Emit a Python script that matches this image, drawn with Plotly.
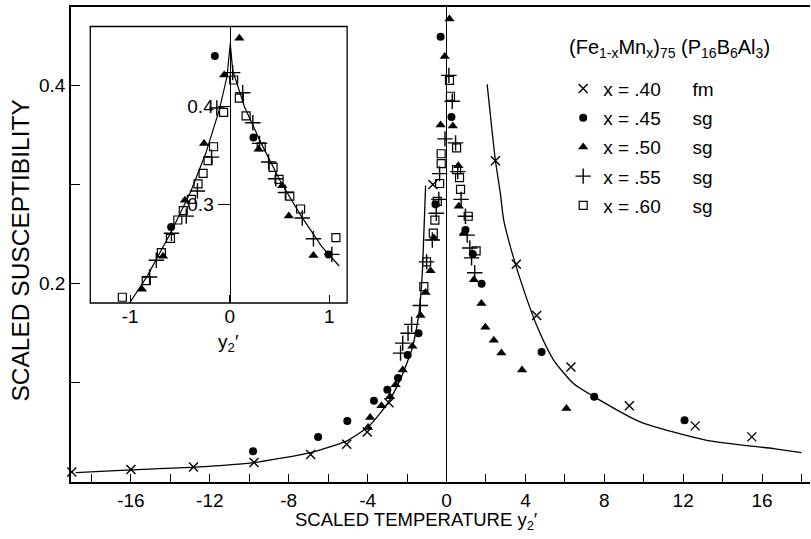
import plotly.graph_objects as go

# ---------------- main panel data ----------------
fm_x = [-19.0, -16.0, -12.83, -9.76, -6.89, -5.06, -4.02, -2.92, -0.69, 2.48, 3.54, 4.57, 6.31, 9.27, 12.61, 15.48]
fm_y = [0.0101, 0.0125, 0.0152, 0.0196, 0.0277, 0.038, 0.0505, 0.080, 0.300, 0.324, 0.2196, 0.168, 0.116, 0.0768, 0.0566, 0.0455]

c45_x = [-9.81, -6.51, -5.03, -3.68, -3.0, -2.46, -1.97, -1.42, -0.56, -0.30, 0.25, 0.96, 1.33, 1.78, 4.82, 7.49, 12.07]
c45_y = [0.031, 0.0455, 0.0616, 0.082, 0.093, 0.105, 0.128, 0.150, 0.280, 0.449, 0.368, 0.254, 0.230, 0.200, 0.131, 0.0859, 0.0623]

t50_x = [-3.98, -3.87, -3.30, -2.86, -2.58, -2.22, -1.73, -1.32, -1.06, -0.81, -0.64, -0.30, -0.09, 0.15, 0.32, 0.60, 0.62, 0.88, 1.39, 1.77, 1.97, 2.40, 2.78, 3.83, 6.08]
t50_y = [0.055, 0.065, 0.077, 0.086, 0.098, 0.113, 0.137, 0.168, 0.191, 0.213, 0.246, 0.360, 0.429, 0.467, 0.359, 0.319, 0.278, 0.251, 0.204, 0.180, 0.156, 0.143, 0.130, 0.113, 0.074]

p55_x = [-2.33, -2.22, -1.95, -1.77, -1.33, -1.01, -0.72, -0.52, -0.39, -0.35, -0.08, 0.12, 0.29, 0.46, 0.57, 0.74, 0.96, 1.05, 1.18, 1.27, 1.43]
p55_y = [0.130, 0.140, 0.150, 0.159, 0.178, 0.222, 0.244, 0.271, 0.285, 0.311, 0.346, 0.410, 0.384, 0.342, 0.313, 0.285, 0.268, 0.249, 0.236, 0.226, 0.211]

s60_x = [-1.15, -1.01, -0.67, -0.59, -0.47, -0.35, -0.27, -0.27, 0.15, 0.20, 0.51, 0.51, 0.66, 0.71, 1.10, 1.50]
s60_y = [0.197, 0.222, 0.251, 0.264, 0.283, 0.301, 0.321, 0.331, 0.405, 0.389, 0.337, 0.315, 0.307, 0.295, 0.268, 0.233]

# fitted curves
curveL_x = [-18.8, -16.0, -12.8, -9.76, -6.9, -5.0, -3.9, -3.0, -2.33, -1.74, -1.40, -1.23, -1.15, -1.06]
curveL_y = [0.0095, 0.0122, 0.015, 0.0196, 0.0297, 0.042, 0.057, 0.079, 0.104, 0.135, 0.170, 0.210, 0.250, 0.299]
curveR_x = [2.06, 2.23, 2.48, 2.73, 2.90, 3.33, 3.91, 4.59, 5.43, 6.45, 7.49, 9.82, 13.2, 16.57, 18.0]
curveR_y = [0.401, 0.369, 0.324, 0.291, 0.264, 0.2307, 0.194, 0.157, 0.123, 0.099, 0.0859, 0.0606, 0.042, 0.0337, 0.0297]

# ---------------- inset data ----------------
in45_x = [-0.149, -0.588, 0.239, 0.993]
in45_y = [0.451, 0.277, 0.368, 0.249]
in50_x = [0.097, -0.055, -0.257, -0.450, -0.669, -0.882, 0.290, 0.527, 0.594, 0.841]
in50_y = [0.469, 0.4315, 0.362, 0.304, 0.247, 0.2135, 0.356, 0.319, 0.288, 0.248]
in55_x = [0.030, 0.131, -0.129, -0.182, -0.324, -0.436, -0.585, -0.737, -0.804, 0.233, 0.300, 0.391, 0.462, 0.560, 0.729, 0.841, 1.026]
in55_y = [0.434, 0.4135, 0.398, 0.348, 0.3135, 0.288, 0.2705, 0.243, 0.226, 0.383, 0.362, 0.343, 0.326, 0.312, 0.286, 0.265, 0.249]
in60_x = [0.040, 0.097, -0.061, -0.162, -0.217, -0.267, -0.318, -0.385, -0.466, -0.521, -0.595, -0.686, -0.838, -1.078, 0.165, 0.317, 0.436, 0.496, 0.604, 0.712, 1.067]
in60_y = [0.4265, 0.408, 0.3936, 0.3586, 0.3444, 0.3315, 0.3207, 0.305, 0.2935, 0.284, 0.2654, 0.2508, 0.2223, 0.2054, 0.390, 0.3586, 0.3376, 0.3254, 0.3084, 0.2952, 0.266]
inC_x = [-1.007, -0.831, -0.595, -0.392, -0.240, -0.105, -0.027, 0.006, 0.030, 0.148, 0.317, 0.520, 0.722, 0.925, 1.100]
inC_y = [0.1993, 0.2264, 0.2705, 0.3128, 0.3519, 0.3959, 0.4298, 0.4638, 0.4366, 0.3993, 0.362, 0.3214, 0.2874, 0.2569, 0.2372]

# tick labels
x_tickvals = list(range(-18, 19, 2))
x_ticktext = [("-" + str(-v) if v < 0 else str(v)) if v % 4 == 0 else "" for v in x_tickvals]
y_tickvals = [0.1, 0.2, 0.3, 0.4]
y_ticktext = ["", "0.2", "", "0.4"]
in_x_tickvals = [-1, 0, 1]
in_x_ticktext = ["-1", "0", "1"]
in_y_tickvals = [0.3, 0.4]
in_y_ticktext = ["0.3", "0.4"]

NB = "\u00a0"
legend_title = "(Fe<sub>1-x</sub>Mn<sub>x</sub>)<sub>75</sub> (P<sub>16</sub>B<sub>6</sub>Al<sub>3</sub>)"
legend_names = ["x = .40" + NB * 6 + "fm", "x = .45" + NB * 6 + "sg", "x = .50" + NB * 6 + "sg",
                "x = .55" + NB * 6 + "sg", "x = .60" + NB * 6 + "sg"]

FONT = "Liberation Sans"
K = "black"

fig = go.Figure()

# curves
fig.add_trace(go.Scatter(x=curveL_x, y=curveL_y, mode="lines", line=dict(color=K, width=1.3, shape="spline", smoothing=0.6),
                         showlegend=False, hoverinfo="skip"))
fig.add_trace(go.Scatter(x=curveR_x, y=curveR_y, mode="lines", line=dict(color=K, width=1.3, shape="spline", smoothing=0.6),
                         showlegend=False, hoverinfo="skip"))

sym = dict(
    fm=dict(symbol="x-thin-open", size=9, color=K, line=dict(width=1.4, color=K)),
    c45=dict(symbol="circle", size=8, color=K, line=dict(width=0)),
    t50=dict(symbol="triangle-up", size=9, color=K, line=dict(width=0)),
    p55=dict(symbol="cross-thin-open", size=11, color=K, line=dict(width=1.4, color=K)),
    s60=dict(symbol="square-open", size=8, color=K, line=dict(width=1.2, color=K)),
)

main_sets = [(fm_x, fm_y, "fm"), (c45_x, c45_y, "c45"), (t50_x, t50_y, "t50"), (p55_x, p55_y, "p55"), (s60_x, s60_y, "s60")]
for i, (xs, ys, k) in enumerate(main_sets):
    fig.add_trace(go.Scatter(x=xs, y=ys, mode="markers", marker=sym[k], name=legend_names[i],
                             legendgroup=k, showlegend=True, cliponaxis=False))

# inset
fig.add_trace(go.Scatter(x=inC_x, y=inC_y, mode="lines", line=dict(color=K, width=1.2),
                         xaxis="x2", yaxis="y2", showlegend=False, hoverinfo="skip"))
inset_sets = [(in45_x, in45_y, "c45"), (in50_x, in50_y, "t50"), (in55_x, in55_y, "p55"), (in60_x, in60_y, "s60")]
for xs, ys, k in inset_sets:
    fig.add_trace(go.Scatter(x=xs, y=ys, mode="markers", marker=sym[k], xaxis="x2", yaxis="y2",
                             showlegend=False, legendgroup=k))

tickfont = dict(family=FONT, size=19, color=K)

fig.update_layout(
    width=811, height=539,
    margin=dict(l=71, r=1, t=7, b=57),
    paper_bgcolor="white", plot_bgcolor="white",
    font=dict(family=FONT, color=K),
    xaxis=dict(range=[-19.04, 18.43], tickvals=x_tickvals, ticktext=x_ticktext, ticks="inside", ticklen=8,
               tickwidth=1.3, tickcolor=K, showline=True, linecolor=K, linewidth=1.5, mirror=True,
               showgrid=False, zeroline=True, zerolinecolor=K, zerolinewidth=1.3, tickfont=tickfont,
               layer="below traces"),
    yaxis=dict(range=[0, 0.479], tickvals=y_tickvals, ticktext=y_ticktext, ticks="inside", ticklen=9,
               tickwidth=1.3, tickcolor=K, showline=True, linecolor=K, linewidth=1.5, mirror=False,
               showgrid=False, zeroline=False, tickfont=tickfont, layer="below traces"),
    xaxis2=dict(domain=[0.0261, 0.3737], anchor="y2", range=[-1.40, 1.18], tickvals=in_x_tickvals,
                ticktext=in_x_ticktext, ticks="inside", ticklen=8, tickwidth=1.3, tickcolor=K,
                showline=False, showgrid=False, zeroline=False, tickfont=tickfont),
    yaxis2=dict(domain=[0.3768, 0.959], anchor="free", position=0.2147, range=[0.1995, 0.481],
                tickvals=in_y_tickvals, ticktext=in_y_ticktext, ticks="outside", ticklen=12, tickwidth=1.3,
                tickcolor=K, showline=True, linecolor=K, linewidth=1.3, showgrid=False, zeroline=False,
                tickfont=tickfont),
    showlegend=True,
    legend=dict(x=0.666, y=0.868, xanchor="left", yanchor="top", bgcolor="rgba(0,0,0,0)",
                font=dict(family=FONT, size=19, color=K), tracegroupgap=1.5),
    shapes=[dict(type="rect", xref="x2 domain", yref="y2 domain", x0=0, x1=1, y0=0, y1=1,
                 line=dict(color=K, width=1.3), fillcolor="rgba(0,0,0,0)", layer="above")],
    annotations=[
        dict(text=legend_title, xref="paper", yref="paper", x=(567 - 70.7) / 739.3, y=(482 - 48) / 475,
             showarrow=False, font=dict(family=FONT, size=20, color=K), xanchor="left", yanchor="middle"),
        dict(text="SCALED TEMPERATURE y<sub>2</sub>′", xref="paper", yref="paper", x=0.4675, y=-0.082,
             showarrow=False, font=dict(family=FONT, size=18.5, color=K), xanchor="center", yanchor="middle"),
        dict(text="SCALED SUSCEPTIBILITY", xref="paper", yref="paper", x=-0.0686, y=0.488, textangle=-90,
             showarrow=False, font=dict(family=FONT, size=24.5, color=K), xanchor="center", yanchor="middle"),
        dict(text="y<sub>2</sub>′", xref="paper", yref="paper", x=0.2128, y=0.292,
             showarrow=False, font=dict(family=FONT, size=19, color=K), xanchor="center", yanchor="middle"),
    ],
)

fig.write_html("out.html", post_script="document.body.style.margin='0px';",
               config={"displayModeBar": False})
